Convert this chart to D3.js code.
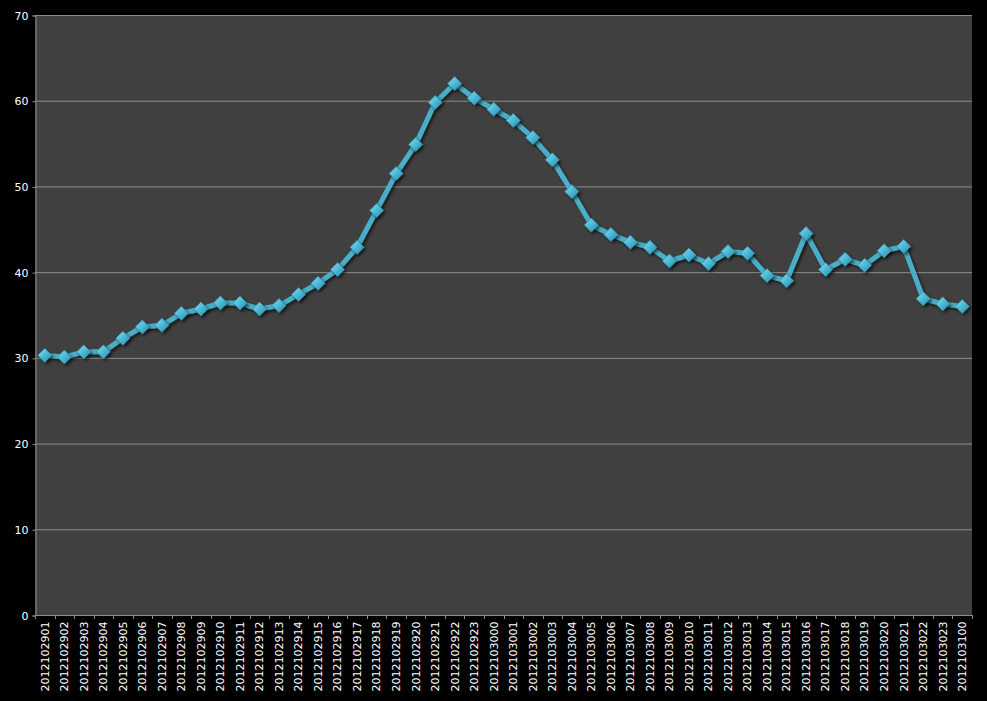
<!DOCTYPE html>
<html><head><meta charset="utf-8">
<script src="https://cdn.jsdelivr.net/npm/d3@7"></script>
<style>html,body{margin:0;padding:0;background:#000;}svg{display:block;}</style>
</head><body>
<script>
const categories = ["2012102901","2012102902","2012102903","2012102904","2012102905","2012102906","2012102907","2012102908","2012102909","2012102910","2012102911","2012102912","2012102913","2012102914","2012102915","2012102916","2012102917","2012102918","2012102919","2012102920","2012102921","2012102922","2012102923","2012103000","2012103001","2012103002","2012103003","2012103004","2012103005","2012103006","2012103007","2012103008","2012103009","2012103010","2012103011","2012103012","2012103013","2012103014","2012103015","2012103016","2012103017","2012103018","2012103019","2012103020","2012103021","2012103022","2012103023","2012103100"];
const values = [30.3,30.1,30.7,30.7,32.3,33.6,33.8,35.2,35.7,36.4,36.4,35.7,36.1,37.4,38.7,40.3,42.9,47.2,51.5,54.9,59.8,62.0,60.3,59.0,57.7,55.7,53.1,49.4,45.5,44.4,43.5,42.9,41.3,42.0,41.0,42.4,42.2,39.6,39.0,44.5,40.3,41.5,40.8,42.5,43.0,36.9,36.3,36.0];
const yTicks = [0,10,20,30,40,50,60,70];

const W = 987, H = 701;
const L = 35, R = 972, T = 15, B = 615;
const svg = d3.select("body").append("svg").attr("width", W).attr("height", H);
svg.append("rect").attr("width", W).attr("height", H).attr("fill", "#000");

const defs = svg.append("defs");
const grad = defs.append("linearGradient").attr("id","mk").attr("x1","0").attr("y1","0").attr("x2","1").attr("y2","1");
grad.append("stop").attr("offset","0%").attr("stop-color","#8fdcf0");
grad.append("stop").attr("offset","50%").attr("stop-color","#4cb8d6");
grad.append("stop").attr("offset","100%").attr("stop-color","#2a8aa6");
const f = defs.append("filter").attr("id","sh").attr("x","-50%").attr("y","-50%").attr("width","200%").attr("height","200%");
f.append("feDropShadow").attr("dx",2).attr("dy",2).attr("stdDeviation",1.5).attr("flood-color","#000").attr("flood-opacity",0.6);

const x = d3.scaleBand().domain(categories).range([L, R]);
const y = d3.scaleLinear().domain([0, 70]).range([B, T]);

svg.append("rect").attr("x", L).attr("y", T).attr("width", R - L).attr("height", B - T).attr("fill", "#404040");

// gridlines
svg.append("g").selectAll("line").data(yTicks.filter(d => d > 0)).join("line")
  .attr("x1", L).attr("x2", R).attr("y1", d => y(d) + 0.5).attr("y2", d => y(d) + 0.5)
  .attr("stroke", "#8c8c8c").attr("stroke-width", 1);

// y axis
const yAxis = d3.axisLeft(y).tickValues(yTicks).tickSize(3).tickPadding(4).tickFormat(d3.format("d"));
const gy = svg.append("g").attr("transform", `translate(${L + 0.5},0.5)`).call(yAxis);
gy.selectAll("path,line").attr("stroke", "#8c8c8c");
gy.selectAll("text").attr("fill", "#fff").style("font-family", "DejaVu Sans, Verdana, sans-serif").style("font-size", "11px");

// x axis
const xAxis = d3.axisBottom(x).tickSize(0).tickPadding(5);
const gx = svg.append("g").attr("transform", `translate(0,${B + 0.5})`).call(xAxis);
gx.select("path").attr("stroke", "#8c8c8c").attr("d", `M${L},0H${R}`);
gx.selectAll(".tick text").attr("fill", "#fff")
  .style("font-family", "DejaVu Sans, Verdana, sans-serif").style("font-size", "11px")
  .attr("transform", "rotate(-90)").attr("text-anchor", "end").attr("x", -6).attr("y", 0).attr("dy", "0.35em");
// category boundary ticks
svg.append("g").selectAll("line").data(categories.concat(["__end"])).join("line")
  .attr("x1", (d, i) => Math.round(L + i * x.step()) + 0.5)
  .attr("x2", (d, i) => Math.round(L + i * x.step()) + 0.5)
  .attr("y1", B).attr("y2", B + 4).attr("stroke", "#8c8c8c");

// line
const cx = (d, i) => x(categories[i]) + x.bandwidth() / 2;
const line = d3.line().x((d, i) => cx(d, i)).y(d => y(d));
svg.append("path").datum(values).attr("d", line).attr("fill", "none")
  .attr("stroke", "#4aaec8").attr("stroke-width", 5).attr("stroke-linejoin", "round")
  .attr("filter", "url(#sh)");

// markers
const s = 7;
svg.append("g").selectAll("path").data(values).join("path")
  .attr("d", (d, i) => { const px = cx(d, i), py = y(d); return `M${px},${py - s}L${px + s},${py}L${px},${py + s}L${px - s},${py}Z`; })
  .attr("fill", "url(#mk)").attr("stroke", "#2f8fa8").attr("stroke-width", 0.8)
  .attr("filter", "url(#sh)");
</script>
</body></html>
